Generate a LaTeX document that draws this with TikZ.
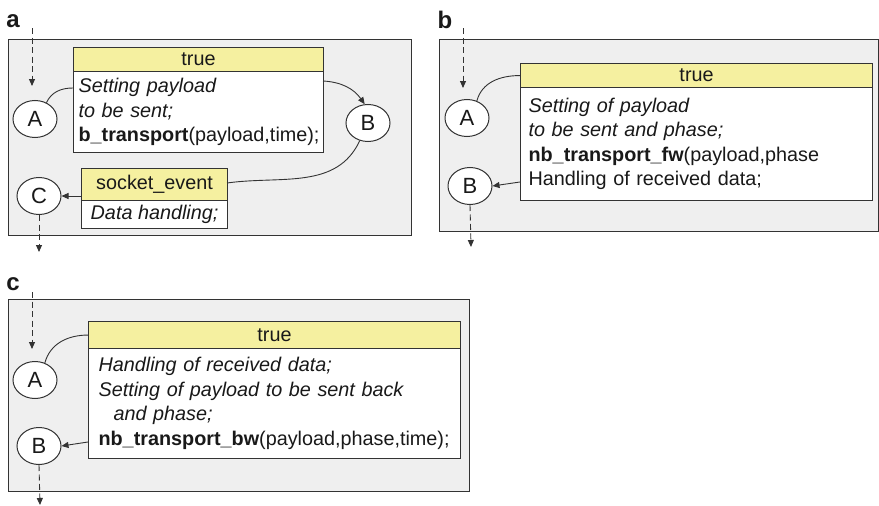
\documentclass[tikz,border=0pt]{standalone}
\usepackage{fontspec}
\setmainfont{Liberation Sans}
\usetikzlibrary{shapes.geometric,arrows.meta}
\definecolor{panelgray}{HTML}{EFEFEF}
\definecolor{hdryellow}{HTML}{F5F0A0}
\definecolor{ink}{HTML}{333333}
\begin{document}
\begin{tikzpicture}[x=1pt,y=1pt,
  every node/.style={font=\fontsize{19.8}{24.5}\selectfont, text=black!90},
  panel/.style={draw=ink, line width=1.2pt, fill=panelgray, anchor=north west, inner sep=0pt},
  hdr/.style={draw=ink, line width=1.1pt, fill=hdryellow, anchor=north west, inner sep=0pt},
  body/.style={draw=ink, line width=1.1pt, fill=white, anchor=north west, align=left, inner ysep=0pt},
  stnode/.style={ellipse, draw=ink, line width=1pt, fill=white, minimum width=44pt, minimum height=37pt, inner sep=0pt, font=\fontsize{22}{22}\selectfont},
  link/.style={draw=ink, line width=0.9pt},
  arr/.style={link, -{Triangle[length=7pt,width=6pt]}},
  flow/.style={arr, dash pattern=on 6pt off 3.5pt},
  tag/.style={font=\fontsize{24}{24}\selectfont\bfseries, anchor=center}
]
\useasboundingbox (0,0) rectangle (879,-506);

% ---------------- (a) blocking transport ----------------
\node[tag] (labA) at (13,-21) {a};
\node[panel, minimum width=403, minimum height=196] (panelA) at (8,-39) {};
\node[hdr, minimum width=250, minimum height=24] (hdrA) at (73,-47) {true};
\node[body, text width=240, inner xsep=5, minimum height=81] (bodyA) at (73,-71)
  {\textit{Setting payload}\\\textit{to be sent;}\\\textbf{b\_transport}(payload,time);};
\node[hdr, minimum width=146, minimum height=32] (hdrS) at (81,-168) {socket\_event};
\node[body, align=center, inner xsep=0pt, minimum width=146, minimum height=28] (bodyS) at (81,-200)
  {\textit{Data handling;}};
\node[stnode] (aA) at (35,-119) {A};
\node[stnode] (aB) at (368,-123) {B};
\node[stnode] (aC) at (39,-196) {C};

\coordinate (aInS) at (32,-28);
\coordinate (aInE) at (32,-86);
\coordinate (aBodyIn) at (73,-88);
\coordinate (aBodyOut) at (323,-81);
\coordinate (aSockIn) at (227,-183);
\coordinate (aOutE) at (39,-252);
\draw[flow] (aInS) -- (aInE);
\draw[link] (aA.55) to[out=65,in=180] (aBodyIn);
\draw[arr] (aBodyOut) to[out=-3,in=125] (aB.100);
\draw[link] (aB.245) to[out=-115,in=8] (aSockIn);
\draw[arr] (hdrS.west |- aC) -- (aC.east);
\draw[flow] (aC.south) -- (aOutE);

% ---------------- (b) non-blocking forward path ----------------
\node[tag] (labB) at (445,-20) {b};
\node[panel, minimum width=439, minimum height=192] (panelB) at (439,-39) {};
\node[hdr, minimum width=352, minimum height=24] (hdrB) at (520,-63) {true};
\node[body, text width=336, inner xsep=8, minimum height=113] (bodyB) at (520,-87)
  {\textit{Setting of payload}\\\textit{to be sent and phase;}\\\textbf{nb\_transport\_fw}(payload,phase\\Handling of received data;};
\node[stnode] (bA) at (467,-118) {A};
\node[stnode] (bB) at (470,-186) {B};

\coordinate (bInS) at (463,-28);
\coordinate (bInE) at (463,-88);
\coordinate (bBodyOut) at (520,-182);
\coordinate (bOutE) at (471,-247);
\draw[flow] (bInS) -- (bInE);
\draw[link] (bA.60) to[out=75,in=180] (hdrB.west);
\draw[arr] (bBodyOut) -- (bB.east);
\draw[flow] (bB.south) -- (bOutE);

% ---------------- (c) non-blocking backward path ----------------
\node[tag] (labC) at (13,-284) {c};
\node[panel, minimum width=461, minimum height=192] (panelC) at (8,-299) {};
\node[hdr, minimum width=372, minimum height=27] (hdrC) at (88,-321) {true};
\node[body, text width=352, inner xsep=10, minimum height=110] (bodyC) at (88,-348)
  {\textit{Handling of received data;}\\\textit{Setting of payload to be sent back}\\\hspace*{15pt}\textit{and phase;}\\\textbf{nb\_transport\_bw}(payload,phase,time);};
\node[stnode] (cA) at (35,-380) {A};
\node[stnode] (cB) at (39,-446) {B};

\coordinate (cInS) at (32,-292);
\coordinate (cInE) at (32,-349);
\coordinate (cBodyOut) at (88,-442);
\coordinate (cOutE) at (40,-505);
\draw[flow] (cInS) -- (cInE);
\draw[link] (cA.60) to[out=75,in=180] (hdrC.west);
\draw[arr] (cBodyOut) -- (cB.east);
\draw[flow] (cB.south) -- (cOutE);
\end{tikzpicture}
\end{document}
